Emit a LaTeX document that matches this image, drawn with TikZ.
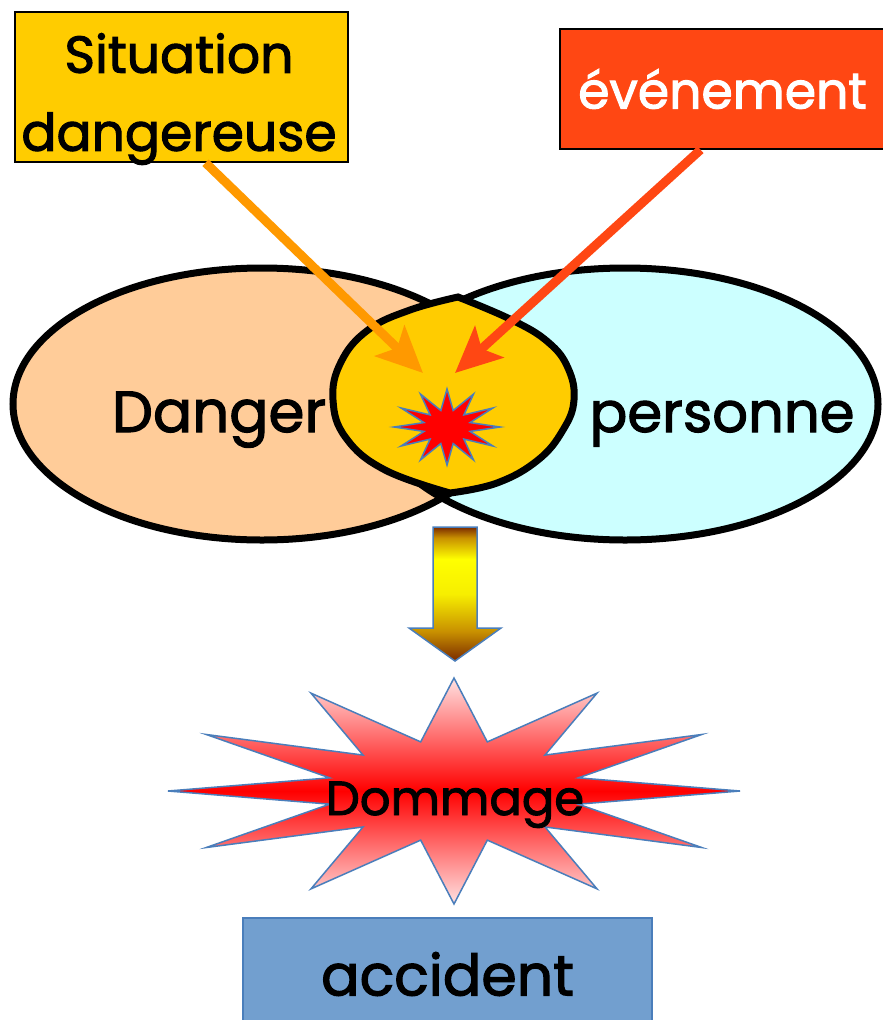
\documentclass[tikz,border=0pt]{standalone}
\usepackage{fontspec}
\setmainfont{Poppins}[FakeBold=2]
\usetikzlibrary{arrows.meta}

\definecolor{gold}{HTML}{FFCC00}
\definecolor{peach}{HTML}{FFCC99}
\definecolor{paleCyan}{HTML}{CCFFFF}
\definecolor{evtred}{HTML}{FF4713}
\definecolor{arroworange}{HTML}{FF9900}
\definecolor{edgeblue}{HTML}{4A7EBB}
\definecolor{accblue}{HTML}{729FCF}
\definecolor{arrowbrown}{HTML}{7A2A00}
\definecolor{arrowgold}{HTML}{C89000}
\definecolor{arrowyellow}{HTML}{FFFF00}
\definecolor{burstpink}{HTML}{FFE2E2}

% bottom (tip) is 25bp, top of the shaft is 75bp
\pgfdeclareverticalshading{droparrow}{100bp}{color(0bp)=(arrowbrown); color(25bp)=(arrowbrown); color(36bp)=(arrowgold); color(50bp)=(arrowyellow!85!arrowgold); color(63bp)=(arrowyellow); color(71bp)=(arrowgold); color(75bp)=(arrowbrown); color(100bp)=(arrowbrown)}

\tikzset{
  textbox/.style={draw, line width=1.5pt, inner sep=0pt, align=center},
  pointer/.style={line width=9pt, -{Stealth[length=46pt,width=42pt,inset=10pt]}},
  outline/.style={line width=7pt},
  burstedge/.style={draw=edgeblue, line width=1.5pt},
  label/.style={anchor=base, font=\fontsize{58}{64}\selectfont}
}

\begin{document}
\begin{tikzpicture}[x=1pt,y=-1pt]
	\clip (0,0) rectangle (883,1020);

	% danger and personne
	\fill[peach] (262,404) ellipse [x radius=249, y radius=136];
	\fill[paleCyan] (625,404) ellipse [x radius=253, y radius=136];
	\draw[outline] (262,404) ellipse [x radius=249, y radius=136];
	\draw[outline] (625,404) ellipse [x radius=253, y radius=136];
	\draw[outline, fill=gold] plot[smooth, tension=0.7] coordinates {(458,297) (410,310) (368,330) (341,362) (333,400) (346,438) (385,470) (450,493)}
		-- plot[smooth, tension=0.7] coordinates {(450,493) (497,483) (538,460) (563,430) (574,400) (568,368) (548,342) (512,320) (458,297)} -- cycle;
	\node[label] (danger) at (219,432) {Danger};
	\node[label, font=\fontsize{56}{64}\selectfont] (personne) at (722,432) {personne};

	% small burst
	\draw[burstedge, fill=red] (447,389) \foreach \a in {0,30,...,330} { -- ({447+0.45*53*sin(\a+15)},{427-0.45*38*cos(\a+15)}) -- ({447+53*sin(\a+30)},{427-38*cos(\a+30)}) } -- cycle;
	\coordinate (hit1) at (423,373);
	\coordinate (hit2) at (455,373);

	% the two causes
	\node[textbox, fill=gold, minimum width=333pt, minimum height=150pt] (situation) at (181.5,87) {};
	\node[align=center, font=\fontsize{52}{78}\selectfont] (situationtext) at (179,99) {Situation\\dangereuse};
	\node[textbox, fill=evtred, text=white, minimum width=325pt, minimum height=120pt, font=\fontsize{50.5}{60}\selectfont] (evenement) at (722.5,89) {événement};
	\draw[pointer, arroworange] ([xshift=24pt]situation.south) -- (hit1);
	\draw[pointer, evtred] ([xshift=-22pt]evenement.south) -- (hit2);

	% down arrow
	\draw[draw=edgeblue, line width=1.5pt, shading=droparrow] (433,527) -- (477,527) -- (477,628) -- (501,628) -- (455,661) -- (409,628) -- (433,628) -- cycle;

	% dommage
	\draw[burstedge, top color=burstpink, bottom color=burstpink, middle color=red] (454,678) \foreach \a in {0,30,...,330} { -- ({454+0.45*286*sin(\a+15)},{791-0.45*113*cos(\a+15)}) -- ({454+286*sin(\a+30)},{791-113*cos(\a+30)}) } -- cycle;
	\node[label, font=\fontsize{48}{60}\selectfont] (dommage) at (455,815) {Dommage};

	\node[textbox, draw=edgeblue, fill=accblue, minimum width=409pt, minimum height=112pt, font=\fontsize{57}{66}\selectfont] (accident) at (447.5,974) {accident};
\end{tikzpicture}
\end{document}
